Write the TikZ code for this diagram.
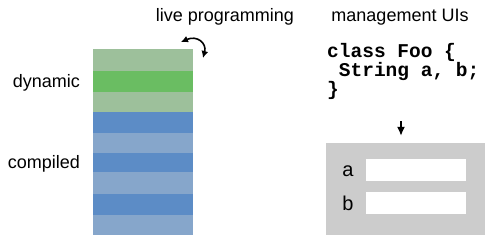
\documentclass[tikz,border=0pt]{standalone}
\usepackage{fontspec}
\usetikzlibrary{arrows.meta}
\setmainfont{Liberation Sans}
\setmonofont{Liberation Mono}
\definecolor{dynlight}{RGB}{157,192,155}
\definecolor{dyndark}{RGB}{106,189,98}
\definecolor{cmpdark}{RGB}{92,140,198}
\definecolor{cmplight}{RGB}{134,166,203}
\definecolor{panelgray}{RGB}{204,204,204}
\tikzset{
  plaintext/.style={inner sep=0pt,font=\fontsize{18bp}{20bp}\selectfont},
  codetext/.style={inner sep=0pt,align=left,font=\fontsize{19.5bp}{18bp}\selectfont\ttfamily\bfseries},
  field/.style={fill=white,minimum width=100bp,minimum height=22bp,inner sep=0pt},
}
\begin{document}
\begin{tikzpicture}[>={Latex[length=7bp,width=7bp]},x=1bp,y=-1bp,line join=bevel]
  \useasboundingbox (0,0) rectangle (497,247);
%%
  % Stack: dynamic part on top, compiled part below
  \fill[dynlight] (93,49) rectangle (193,71);
  \fill[dyndark]  (93,71) rectangle (193,92);
  \fill[dynlight] (93,92) rectangle (193,112);
  \fill[cmpdark]  (93,112) rectangle (193,133);
  \fill[cmplight] (93,133) rectangle (193,153);
  \fill[cmpdark]  (93,153) rectangle (193,172);
  \fill[cmplight] (93,172) rectangle (193,194);
  \fill[cmpdark]  (93,194) rectangle (193,215);
  \fill[cmplight] (93,215) rectangle (193,235);
  % Labels
  \node[plaintext,anchor=east] (dynamic) at (80,83) {dynamic};
  \node[plaintext,anchor=east] (compiled) at (80,164) {compiled};
  \node[plaintext] (live) at (225,17) {live programming};
  \node[plaintext] (mgmt) at (400,17) {management UIs};
  % Edge: swap arrow on the stack corner
  \coordinate (swapl) at (181,42);
  \coordinate (swapr) at (203,58);
  \draw[<->,line width=1.6bp] (swapl) .. controls (197,35) and (207,43) .. (swapr);
  % Node: class source
  \node[codetext,anchor=north west] (code) at (327,43)
    {class Foo \{\\\ String a, b;\\\}};
  % Node: generated form
\begin{scope}
  \node[fill=panelgray,minimum width=159bp,minimum height=92bp,inner sep=0pt] (ui) at (405.5,189) {};
  \node[field] (fielda) at (416,170) {};
  \node[field] (fieldb) at (416,203) {};
  \node[plaintext,font=\fontsize{20bp}{22bp}\selectfont] (namea) at (348,171) {a};
  \node[plaintext,font=\fontsize{20bp}{22bp}\selectfont] (nameb) at (348,203) {b};
\end{scope}
  % Edge: code -> ui
  \coordinate (down) at (401,121);
  \draw[->,line width=1.5bp,>={Latex[length=9bp,width=8bp]},shorten >=7bp]
    (down) -- (down |- ui.north);
%
\end{tikzpicture}
\end{document}
